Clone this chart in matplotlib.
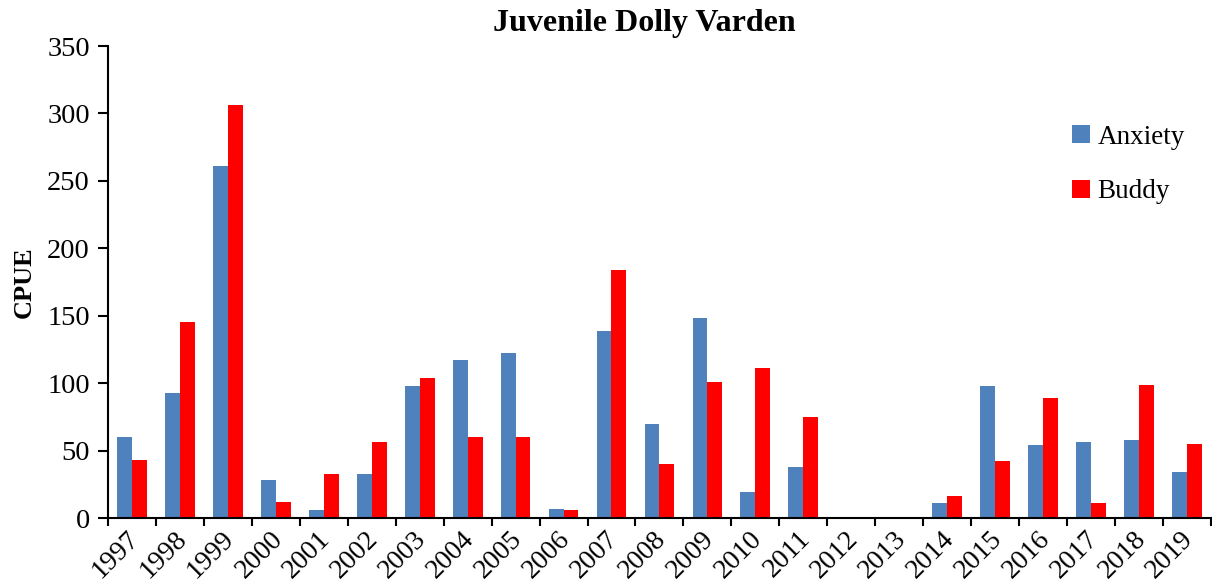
import matplotlib
matplotlib.use('Agg')
import matplotlib.pyplot as plt
import matplotlib.transforms as mtransforms
import numpy as np

years = [str(y) for y in range(1997, 2020)]
anxiety = [60, 93, 261, 28, 6, 33, 98, 117, 122, 7, 139, 70, 148, 19, 38, 0, 0, 11, 98, 54, 56, 58, 34]
buddy = [43, 145, 306, 12, 33, 56, 104, 60, 60, 6, 184, 40, 101, 111, 75, 0, 0, 16, 42, 89, 11, 99, 55]

plt.rcParams['font.family'] = ['Liberation Serif', 'DejaVu Serif']

fig = plt.figure(figsize=(12.12, 5.81), dpi=100)
ax = fig.add_axes([0.0891, 0.1084, 0.9100, 0.8124])

x = np.arange(len(years))
w = 0.31
ax.bar(x - w/2, anxiety, width=w, color='#4F81BD', label='Anxiety')
ax.bar(x + w/2, buddy, width=w, color='#FF0000', label='Buddy')

ax.set_xlim(-0.5, len(years) - 0.5)
ax.set_ylim(0, 350)
ax.set_yticks(range(0, 351, 50))
ax.tick_params(axis='y', labelsize=20.5, direction='out', length=7, width=1.5, pad=6)

ax.set_xticks(x)
ax.set_xticklabels(years, rotation=45, ha='right', rotation_mode='anchor', fontsize=20)
ax.tick_params(axis='x', which='major', length=0, pad=6)
ax.set_xticks(np.arange(-0.5, len(years) - 0.4, 1), minor=True)
ax.tick_params(axis='x', which='minor', direction='out', length=6, width=1.5)
# nudge rotated year labels a little to the left
shift = mtransforms.ScaledTranslation(-6/100, 0, fig.dpi_scale_trans)
for lbl in ax.get_xticklabels():
    lbl.set_transform(lbl.get_transform() + shift)

for s in ['top', 'right']:
    ax.spines[s].set_visible(False)
for s in ['left', 'bottom']:
    ax.spines[s].set_linewidth(1.5)

ax.set_ylabel('CPUE', fontsize=19, fontweight='bold', labelpad=8)
fig.text(0.532, 0.96, 'Juvenile Dolly Varden', ha='center', va='center',
         fontsize=23, fontweight='bold')

ax.legend(loc='upper left', bbox_to_anchor=(0.852, 0.885), frameon=False, fontsize=19.5,
          handlelength=0.65, handleheight=0.65, handletextpad=0.3, labelspacing=1.1)

fig.savefig('out.png', dpi=100)
